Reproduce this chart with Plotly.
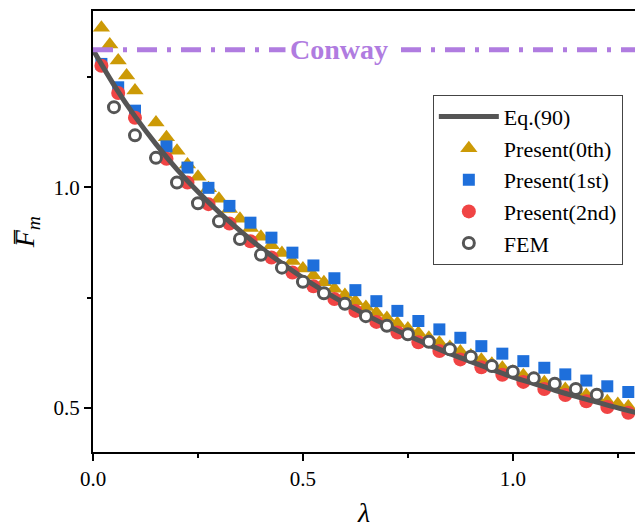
import plotly.graph_objects as go

# Normalised force F_m versus lambda
lam_eq = [0.00, 0.05, 0.10, 0.15, 0.20, 0.25, 0.30, 0.35, 0.40, 0.45, 0.50, 0.55, 0.60,
          0.65, 0.70, 0.75, 0.80, 0.85, 0.90, 0.95, 1.00, 1.05, 1.10, 1.15, 1.20, 1.25, 1.30]
fm_eq = [1.312, 1.232, 1.161, 1.098, 1.041, 0.990, 0.944, 0.902, 0.863, 0.828, 0.795, 0.765,
         0.737, 0.711, 0.687, 0.664, 0.643, 0.623, 0.605, 0.587, 0.570, 0.555, 0.540, 0.526,
         0.513, 0.500, 0.488]

lam_0th = [0.02, 0.04, 0.06, 0.08, 0.10, 0.15, 0.175, 0.20, 0.225, 0.25, 0.275, 0.30, 0.325,
           0.35, 0.375, 0.40, 0.425, 0.45, 0.475, 0.50, 0.525, 0.55, 0.575, 0.60, 0.625, 0.65,
           0.675, 0.70, 0.725, 0.75, 0.775, 0.80, 0.825, 0.85, 0.875, 0.90, 0.925, 0.95, 0.975,
           1.00, 1.025, 1.05, 1.075, 1.10, 1.125, 1.15, 1.175, 1.20, 1.225, 1.25, 1.275]
fm_0th = [1.362, 1.324, 1.288, 1.254, 1.220, 1.147, 1.114, 1.083, 1.052, 1.024, 0.998, 0.974,
          0.951, 0.929, 0.908, 0.888, 0.869, 0.851, 0.833, 0.816, 0.800, 0.785, 0.770, 0.756,
          0.742, 0.729, 0.716, 0.704, 0.692, 0.680, 0.670, 0.659, 0.648, 0.638, 0.628, 0.619,
          0.609, 0.600, 0.591, 0.582, 0.574, 0.566, 0.558, 0.551, 0.543, 0.536, 0.529, 0.522,
          0.515, 0.509, 0.503]

lam_12 = [0.02, 0.06, 0.10, 0.175, 0.225, 0.275, 0.325, 0.375, 0.425, 0.475, 0.525, 0.575,
          0.625, 0.675, 0.725, 0.775, 0.825, 0.875, 0.925, 0.975, 1.025, 1.075, 1.125, 1.175,
          1.225, 1.275]
fm_1st = [1.280, 1.227, 1.174, 1.093, 1.045, 0.999, 0.958, 0.920, 0.886, 0.852, 0.823, 0.794,
          0.767, 0.742, 0.720, 0.697, 0.678, 0.659, 0.640, 0.623, 0.606, 0.591, 0.576, 0.562,
          0.549, 0.536]
fm_2nd = [1.276, 1.214, 1.158, 1.065, 1.011, 0.962, 0.918, 0.878, 0.841, 0.807, 0.776, 0.747,
          0.720, 0.695, 0.671, 0.649, 0.629, 0.610, 0.592, 0.575, 0.559, 0.543, 0.529, 0.515,
          0.502, 0.489]

lam_fem = [0.05, 0.10, 0.15, 0.20, 0.25, 0.30, 0.35, 0.40, 0.45, 0.50, 0.55, 0.60, 0.65, 0.70,
           0.75, 0.80, 0.85, 0.90, 0.95, 1.00, 1.05, 1.10, 1.15, 1.20]
fm_fem = [1.182, 1.118, 1.067, 1.011, 0.964, 0.923, 0.883, 0.847, 0.818, 0.786, 0.760, 0.736,
          0.708, 0.686, 0.667, 0.650, 0.633, 0.616, 0.595, 0.582, 0.567, 0.555, 0.543, 0.530]

conway_fm = 1.312
lam_span = [0.0, 1.3]

x_ticks = [0.0, 0.5, 1.0]
x_tick_text = ["0.0", "0.5", "1.0"]
x_minor = [0.25, 0.75, 1.25]
y_ticks = [0.5, 1.0]
y_tick_text = ["0.5", "1.0"]
y_minor = [0.75, 1.25]

SERIF = "Liberation Serif"
GRAY = "#555555"

fig = go.Figure()

fig.add_trace(go.Scatter(
    x=lam_0th, y=fm_0th, mode="markers", name="Present(0th)", legendrank=2,
    marker=dict(symbol="triangle-up", size=15, color="#CC9A06", line=dict(width=0))))
fig.add_trace(go.Scatter(
    x=lam_12, y=fm_1st, mode="markers", name="Present(1st)", legendrank=3,
    marker=dict(symbol="square", size=12, color="#1E6FDB", line=dict(width=0))))
fig.add_trace(go.Scatter(
    x=lam_12, y=fm_2nd, mode="markers", name="Present(2nd)", legendrank=4,
    marker=dict(symbol="circle", size=14, color="#F04444", line=dict(width=0))))
fig.add_trace(go.Scatter(
    x=lam_eq, y=fm_eq, mode="lines", name="Eq.(90)", legendrank=1,
    line=dict(color=GRAY, width=5, shape="spline")))
fig.add_trace(go.Scatter(
    x=lam_fem, y=fm_fem, mode="markers", name="FEM", legendrank=5,
    marker=dict(symbol="circle", size=11, color="white", line=dict(color=GRAY, width=3))))
fig.add_trace(go.Scatter(
    x=lam_span, y=[conway_fm, conway_fm], mode="lines", showlegend=False,
    line=dict(color="#B07CE0", width=5, dash="20px,10px,4px,10px")))

# Label sitting on the Conway limit line
fig.add_annotation(
    x=0.587, y=conway_fm, text="<b>Conway</b>", showarrow=False,
    font=dict(family=SERIF, size=28, color="#B07CE0"),
    bgcolor="white", borderpad=4, xanchor="center", yanchor="middle")

# Vertical axis title (rotated)
fig.add_annotation(
    xref="paper", yref="paper", x=-0.122, y=0.498,
    text="<i>F\u0305</i><sub><i>m</i></sub>", showarrow=False, textangle=-90,
    font=dict(family=SERIF, size=28, color="black"),
    xanchor="center", yanchor="middle")

axis_font = dict(family=SERIF, size=21, color="black")

fig.update_layout(
    width=635, height=530,
    margin=dict(l=93, r=0, t=11, b=78, autoexpand=False),
    paper_bgcolor="white", plot_bgcolor="white",
    showlegend=True,
    legend=dict(
        x=0.627, y=0.81, xanchor="left", yanchor="top",
        bgcolor="white", bordercolor="#444444", borderwidth=1,
        font=dict(family=SERIF, size=22, color="black"),
        itemwidth=60, tracegroupgap=0),
    xaxis=dict(
        range=[0, 1.291], showgrid=False, zeroline=False,
        showline=True, linecolor="black", linewidth=2, mirror=True,
        ticks="outside", ticklen=7, tickwidth=2, tickcolor="black",
        tickvals=x_ticks, ticktext=x_tick_text, tickfont=axis_font,
        minor=dict(tickvals=x_minor, ticks="outside", ticklen=4, tickwidth=2,
                   tickcolor="black", showgrid=False),
        title=dict(text="<i>λ</i>", font=dict(family=SERIF, size=28, color="black"),
                   standoff=12)),
    yaxis=dict(
        range=[0.4, 1.4], showgrid=False, zeroline=False,
        showline=True, linecolor="black", linewidth=2, mirror=False,
        ticks="outside", ticklen=7, tickwidth=2, tickcolor="black",
        tickvals=y_ticks, ticktext=y_tick_text, tickfont=axis_font,
        minor=dict(tickvals=y_minor, ticks="outside", ticklen=4, tickwidth=2,
                   tickcolor="black", showgrid=False)),
)

fig.write_html("out.html")
